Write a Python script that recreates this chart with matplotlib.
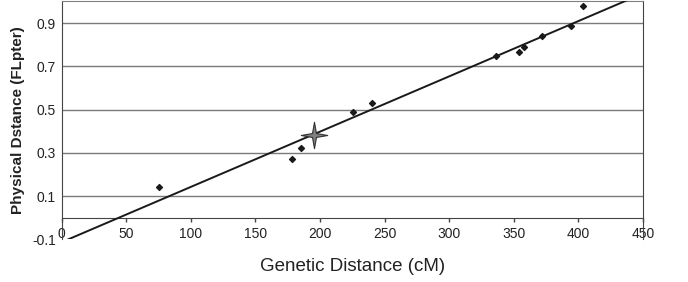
import numpy as np
import matplotlib.pyplot as plt
from matplotlib.path import Path

plt.rcParams['font.family'] = ['Liberation Sans', 'DejaVu Sans']

# markers
genetic_cm = [75.6, 178.3, 185.3, 225.3, 240.5, 336.0, 354.3, 357.9, 372.0, 394.3, 403.3]
physical_fl = [0.140, 0.269, 0.320, 0.488, 0.531, 0.748, 0.766, 0.789, 0.839, 0.886, 0.977]
star_cm = [195.4]
star_fl = [0.384]

# trend line
slope = 0.002557
intercept = -0.1137

x_ticks = [0, 50, 100, 150, 200, 250, 300, 350, 400, 450]
y_ticks = [-0.1, 0.1, 0.3, 0.5, 0.7, 0.9]
grid_y = [0.1, 0.3, 0.5, 0.7, 0.9]

fig = plt.figure(figsize=(6.88, 2.82), dpi=100)
ax = fig.add_axes([0.0895, 0.1516, 0.8451, 0.8434])
ax.set_xlim(0, 450)
ax.set_ylim(-0.1, 1.0)

for g in grid_y:
    ax.axhline(g, color='#7a7a7a', lw=1.0, zorder=1)

xs = np.array([0, 450])
ax.plot(xs, intercept + slope * xs, color='#1a1a1a', lw=1.4, zorder=3)

ax.scatter(genetic_cm, physical_fl, marker='D', s=9, color='#1a1a1a', zorder=4)

k = 0.15
star = Path([(0, 1), (k, k), (1, 0), (k, -k), (0, -1), (-k, -k), (-1, 0), (-k, k), (0, 1)],
            [Path.MOVETO] + [Path.LINETO] * 7 + [Path.CLOSEPOLY])
ax.plot(star_cm, star_fl, marker=star, markersize=19, color='#808080',
        markeredgecolor='#333333', markeredgewidth=0.8, linestyle='none', zorder=5)

ax.spines['bottom'].set_position(('data', 0))
ax.spines['bottom'].set_color('#444444')
ax.spines['left'].set_color('#444444')
ax.spines['right'].set_color('#444444')
ax.spines['top'].set_color('#808080')

ax.set_xticks(x_ticks)
ax.set_xticklabels([str(v) for v in x_ticks])
ax.set_yticks(y_ticks)
ax.set_yticklabels(['%.1f' % v for v in y_ticks])
ax.tick_params(axis='x', direction='out', length=3, width=1, color='#444444',
               labelsize=10, pad=4, labelcolor='#222222')
ax.tick_params(axis='y', length=0, labelsize=10, pad=4, labelcolor='#222222')

ax.set_xlabel('Genetic Distance (cM)', fontsize=13.5, color='#222222', labelpad=12)
ax.set_ylabel('Physical Dstance (FLpter)', fontsize=11, fontweight='bold',
              color='#222222', labelpad=5)

fig.savefig('out.png', dpi=100)
